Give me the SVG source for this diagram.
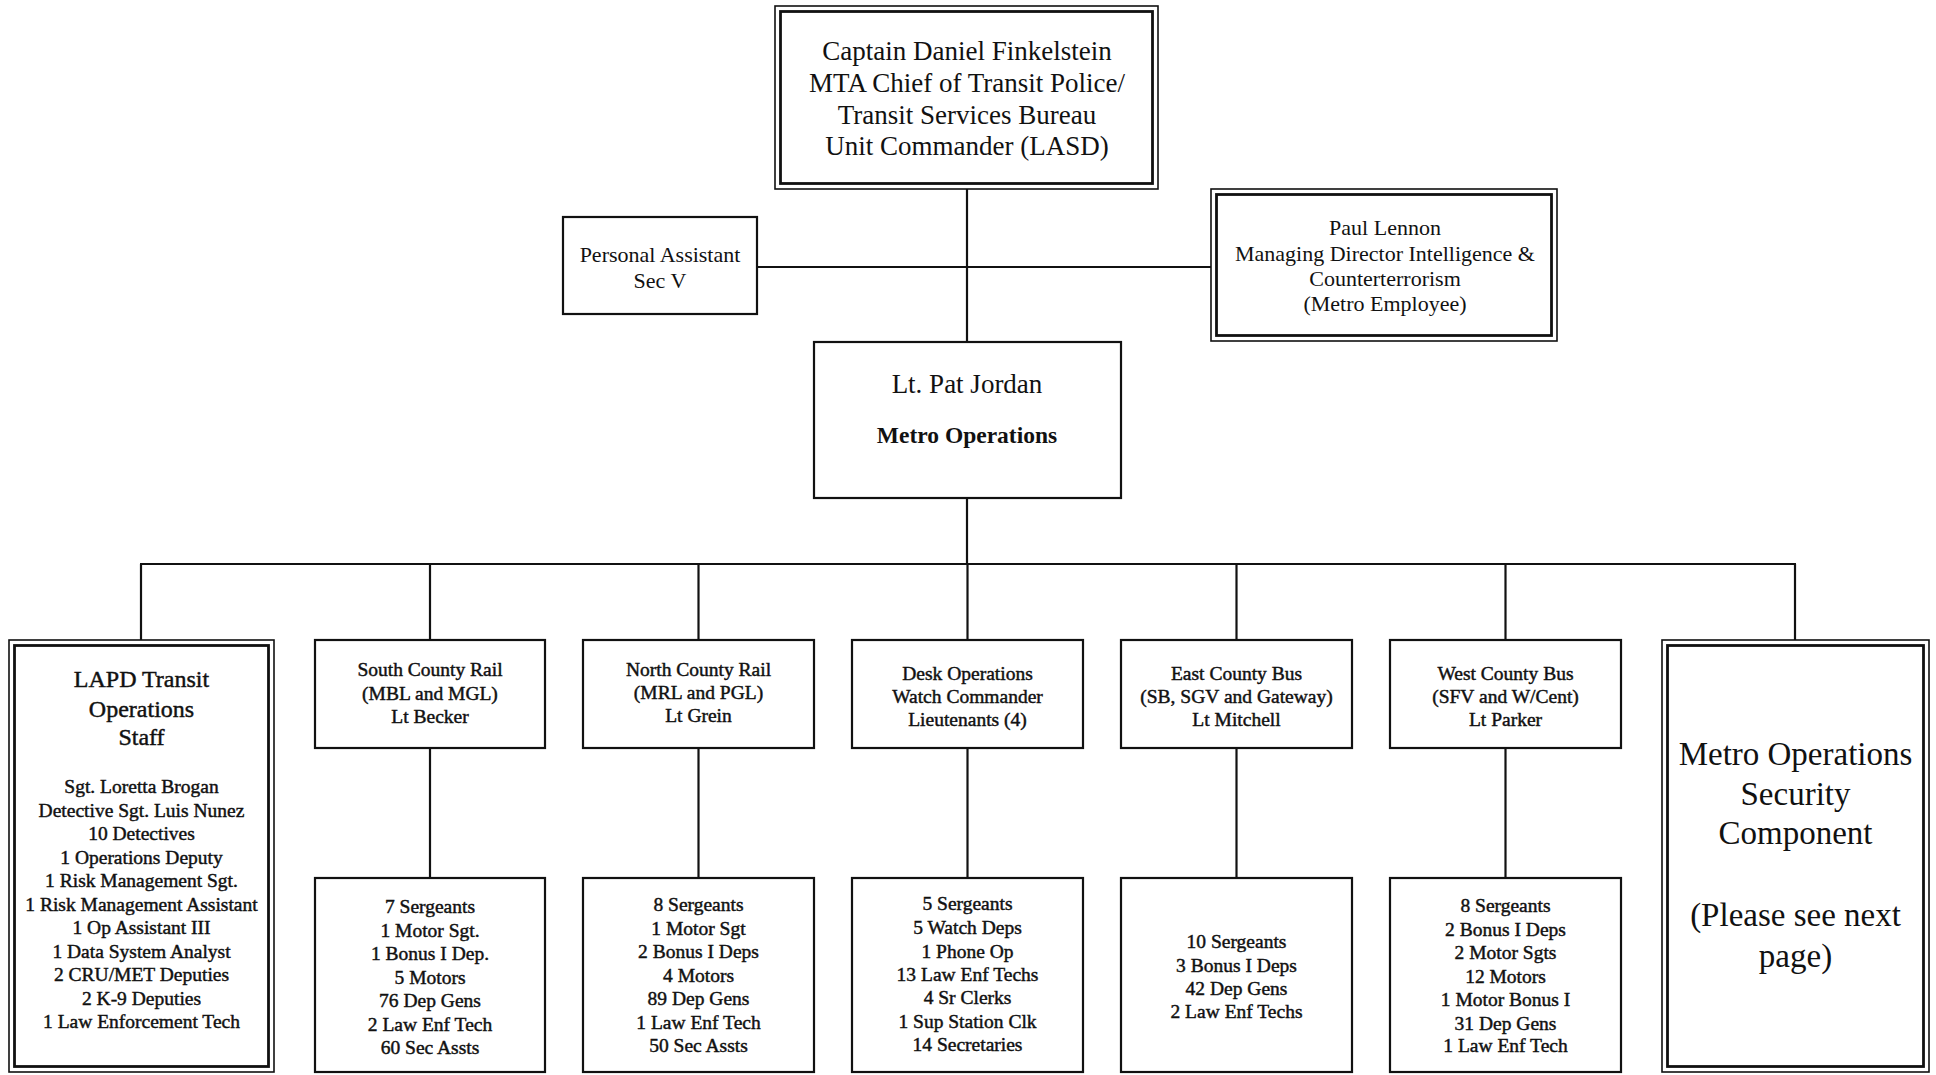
<svg xmlns="http://www.w3.org/2000/svg" width="1936" height="1075" viewBox="0 0 1936 1075">
<style>
text{font-family:"Liberation Serif","Times New Roman",serif;fill:#111;text-anchor:middle}
.box{fill:#fff;stroke:#111;stroke-width:2.2}
.outer{fill:#fff;stroke:#111;stroke-width:1.6}
.inner{fill:none;stroke:#111;stroke-width:2.8}
.conn line{stroke:#111;stroke-width:2.2}
.f27{font-size:27px}
.f22{font-size:22px}
.f19{font-size:19.5px;stroke:#111;stroke-width:0.45}
.f24{font-size:24px;stroke:#111;stroke-width:0.45}
.f33{font-size:33px}
.b{font-weight:bold;font-size:23.5px}
</style>
<rect width="1936" height="1075" fill="#fff"/>
<g id="connectors" class="conn">
<line x1="967" y1="189" x2="967" y2="342"/>
<line x1="757" y1="267" x2="1211" y2="267"/>
<line x1="967" y1="498" x2="967" y2="564"/>
<line x1="140" y1="564" x2="1796" y2="564"/>
<line x1="141" y1="564" x2="141" y2="640"/>
<line x1="430" y1="564" x2="430" y2="640"/>
<line x1="698.5" y1="564" x2="698.5" y2="640"/>
<line x1="967.5" y1="564" x2="967.5" y2="640"/>
<line x1="1236.5" y1="564" x2="1236.5" y2="640"/>
<line x1="1505.5" y1="564" x2="1505.5" y2="640"/>
<line x1="1795" y1="564" x2="1795" y2="640"/>
<line x1="430" y1="748" x2="430" y2="878"/>
<line x1="698.5" y1="748" x2="698.5" y2="878"/>
<line x1="967.5" y1="748" x2="967.5" y2="878"/>
<line x1="1236.5" y1="748" x2="1236.5" y2="878"/>
<line x1="1505.5" y1="748" x2="1505.5" y2="878"/>
</g>
<g id="captain">
<rect class="outer" x="775" y="6" width="383" height="183"/>
<rect class="inner" x="780.5" y="11.5" width="372" height="172"/>
<text class="f27" x="967" y="60">Captain Daniel Finkelstein</text>
<text class="f27" x="967" y="92">MTA Chief of Transit Police/</text>
<text class="f27" x="967" y="124">Transit Services Bureau</text>
<text class="f27" x="967" y="155">Unit Commander (LASD)</text>
</g>
<g id="personal-assistant">
<rect class="box" x="563" y="217" width="194" height="97"/>
<text class="f22" x="660" y="261.5">Personal Assistant</text>
<text class="f22" x="660" y="287.5">Sec V</text>
</g>
<g id="paul-lennon">
<rect class="outer" x="1211" y="189" width="346" height="152"/>
<rect class="inner" x="1216.5" y="194.5" width="335" height="141"/>
<text class="f22" x="1385" y="235">Paul Lennon</text>
<text class="f22" x="1385" y="261">Managing Director Intelligence &amp;</text>
<text class="f22" x="1385" y="286">Counterterrorism</text>
<text class="f22" x="1385" y="311">(Metro Employee)</text>
</g>
<g id="pat-jordan">
<rect class="box" x="814" y="342" width="307" height="156"/>
<text class="f27" x="967" y="393">Lt. Pat Jordan</text>
<text class="b" x="967" y="443">Metro Operations</text>
</g>
<g id="lapd-transit">
<rect class="outer" x="9" y="640" width="265" height="432"/>
<rect class="inner" x="14.5" y="645.5" width="254" height="421"/>
<text class="f24" x="141.5" y="687">LAPD Transit</text>
<text class="f24" x="141.5" y="717">Operations</text>
<text class="f24" x="141.5" y="745">Staff</text>
<text class="f19" x="141.5" y="793">Sgt. Loretta Brogan</text>
<text class="f19" x="141.5" y="817">Detective Sgt. Luis Nunez</text>
<text class="f19" x="141.5" y="840">10 Detectives</text>
<text class="f19" x="141.5" y="864">1 Operations Deputy</text>
<text class="f19" x="141.5" y="887">1 Risk Management Sgt.</text>
<text class="f19" x="141.5" y="911">1 Risk Management Assistant</text>
<text class="f19" x="141.5" y="934">1 Op Assistant III</text>
<text class="f19" x="141.5" y="958">1 Data System Analyst</text>
<text class="f19" x="141.5" y="981">2 CRU/MET Deputies</text>
<text class="f19" x="141.5" y="1005">2 K-9 Deputies</text>
<text class="f19" x="141.5" y="1028">1 Law Enforcement Tech</text>
</g>
<g id="south-county-rail">
<rect class="box" x="315" y="640" width="230" height="108"/>
<text class="f19" x="430" y="676">South County Rail</text>
<text class="f19" x="430" y="700">(MBL and MGL)</text>
<text class="f19" x="430" y="723">Lt Becker</text>
</g>
<g id="south-county-staff">
<rect class="box" x="315" y="878" width="230" height="194"/>
<text class="f19" x="430" y="913">7 Sergeants</text>
<text class="f19" x="430" y="937">1 Motor Sgt.</text>
<text class="f19" x="430" y="960">1 Bonus I Dep.</text>
<text class="f19" x="430" y="984">5 Motors</text>
<text class="f19" x="430" y="1007">76 Dep Gens</text>
<text class="f19" x="430" y="1031">2 Law Enf Tech</text>
<text class="f19" x="430" y="1054">60 Sec Assts</text>
</g>
<g id="north-county-rail">
<rect class="box" x="583" y="640" width="231" height="108"/>
<text class="f19" x="698.5" y="676">North County Rail</text>
<text class="f19" x="698.5" y="699">(MRL and PGL)</text>
<text class="f19" x="698.5" y="722">Lt Grein</text>
</g>
<g id="north-county-staff">
<rect class="box" x="583" y="878" width="231" height="194"/>
<text class="f19" x="698.5" y="911">8 Sergeants</text>
<text class="f19" x="698.5" y="935">1 Motor Sgt</text>
<text class="f19" x="698.5" y="958">2 Bonus I Deps</text>
<text class="f19" x="698.5" y="982">4 Motors</text>
<text class="f19" x="698.5" y="1005">89 Dep Gens</text>
<text class="f19" x="698.5" y="1029">1 Law Enf Tech</text>
<text class="f19" x="698.5" y="1052">50 Sec Assts</text>
</g>
<g id="desk-operations">
<rect class="box" x="852" y="640" width="231" height="108"/>
<text class="f19" x="967.5" y="680">Desk Operations</text>
<text class="f19" x="967.5" y="703">Watch Commander</text>
<text class="f19" x="967.5" y="726">Lieutenants (4)</text>
</g>
<g id="desk-staff">
<rect class="box" x="852" y="878" width="231" height="194"/>
<text class="f19" x="967.5" y="910">5 Sergeants</text>
<text class="f19" x="967.5" y="934">5 Watch Deps</text>
<text class="f19" x="967.5" y="958">1 Phone Op</text>
<text class="f19" x="967.5" y="981">13 Law Enf Techs</text>
<text class="f19" x="967.5" y="1004">4 Sr Clerks</text>
<text class="f19" x="967.5" y="1028">1 Sup Station Clk</text>
<text class="f19" x="967.5" y="1051">14 Secretaries</text>
</g>
<g id="east-county-bus">
<rect class="box" x="1121" y="640" width="231" height="108"/>
<text class="f19" x="1236.5" y="680">East County Bus</text>
<text class="f19" x="1236.5" y="703">(SB, SGV and Gateway)</text>
<text class="f19" x="1236.5" y="726">Lt Mitchell</text>
</g>
<g id="east-county-staff">
<rect class="box" x="1121" y="878" width="231" height="194"/>
<text class="f19" x="1236.5" y="948">10 Sergeants</text>
<text class="f19" x="1236.5" y="972">3 Bonus I Deps</text>
<text class="f19" x="1236.5" y="995">42 Dep Gens</text>
<text class="f19" x="1236.5" y="1018">2 Law Enf Techs</text>
</g>
<g id="west-county-bus">
<rect class="box" x="1390" y="640" width="231" height="108"/>
<text class="f19" x="1505.5" y="680">West County Bus</text>
<text class="f19" x="1505.5" y="703">(SFV and W/Cent)</text>
<text class="f19" x="1505.5" y="726">Lt Parker</text>
</g>
<g id="west-county-staff">
<rect class="box" x="1390" y="878" width="231" height="194"/>
<text class="f19" x="1505.5" y="912">8 Sergeants</text>
<text class="f19" x="1505.5" y="936">2 Bonus I Deps</text>
<text class="f19" x="1505.5" y="959">2 Motor Sgts</text>
<text class="f19" x="1505.5" y="983">12 Motors</text>
<text class="f19" x="1505.5" y="1006">1 Motor Bonus I</text>
<text class="f19" x="1505.5" y="1030">31 Dep Gens</text>
<text class="f19" x="1505.5" y="1052">1 Law Enf Tech</text>
</g>
<g id="security-component">
<rect class="outer" x="1662" y="640" width="267" height="432"/>
<rect class="inner" x="1667.5" y="645.5" width="256" height="421"/>
<text class="f33" x="1795.5" y="765">Metro Operations</text>
<text class="f33" x="1795.5" y="805">Security</text>
<text class="f33" x="1795.5" y="844">Component</text>
<text class="f33" x="1795.5" y="926">(Please see next</text>
<text class="f33" x="1795.5" y="967">page)</text>
</g>
</svg>
